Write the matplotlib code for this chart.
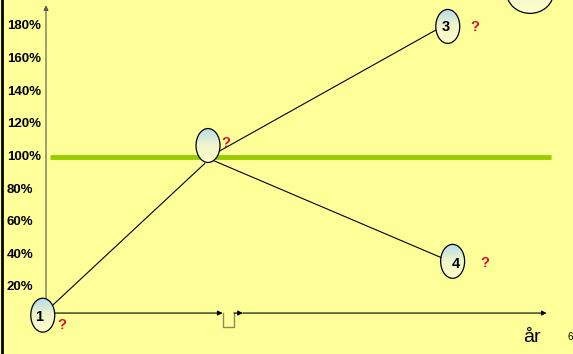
import numpy as np
import matplotlib
matplotlib.use('Agg')
import matplotlib.pyplot as plt
from matplotlib.patches import Ellipse
from matplotlib.colors import LinearSegmentedColormap

# y-axis ticks (percent)
ticks = [20, 40, 60, 80, 100, 120, 140, 160, 180]
tick_labels = [f'{t}%' for t in ticks]

# scenario lines: (start time, start %, end time, end %)
seg_t0 = [0.04, 1.06, 1.04]
seg_p0 = [9, 103, 97.5]
seg_t1 = [0.98, 2.41, 2.47]
seg_p1 = [96, 178, 37]

# marked points
mark_labels = ['1', '', '3', '4']
mark_t = [-0.02, 1.0, 2.48, 2.51]
mark_p = [3, 107, 180, 36]
lab_t = [-0.04, 1.0, 2.47, 2.53]
lab_p = [2, 107, 179.5, 34.5]
q_t = [0.10, 1.11, 2.65, 2.71]
q_p = [-3, 108.5, 179.5, 35]

baseline = 100

bg = '#FFFF99'
fig = plt.figure(figsize=(5.73, 3.54), dpi=100)
fig.patch.set_facecolor(bg)
ax = fig.add_axes([0, 0, 1, 1])
ax.set_facecolor(bg)
ax.axis('off')
ax.set_xlim(-0.284, 3.253)
ax.set_ylim(-20.8, 196.2)

# left border
ax.axvline(-0.274, color='black', lw=2)

# 100% line
ax.plot([0.025, 3.117], [baseline, baseline], color='#99CC00', lw=3.5, solid_capstyle='butt', zorder=2)

# axes
arr = dict(arrowstyle='-|>', color='black', lw=0.8, mutation_scale=7, shrinkA=0, shrinkB=0)
ax.annotate('', xy=(0, 193), xytext=(0, 4.3), arrowprops=dict(arr, color='#555555'))
ax.annotate('', xy=(1.09, 4.3), xytext=(0, 4.3), arrowprops=arr)
ax.plot([1.093, 1.093, 1.16, 1.16], [4.3, -4.3, -4.3, 4.3], color='#8a8a60', lw=1)
ax.annotate('', xy=(1.215, 4.3), xytext=(1.16, 4.3), arrowprops=arr)
ax.annotate('', xy=(3.09, 4.3), xytext=(1.215, 4.3), arrowprops=arr)

for t, lab in zip(ticks, tick_labels):
    ax.text(-0.243, t, lab, ha='left', va='center', fontsize=9.5,
            fontweight='bold', family='Liberation Sans')

for a, b, c, d in zip(seg_t0, seg_p0, seg_t1, seg_p1):
    ax.plot([a, c], [b, d], color='black', lw=0.8, zorder=3)

cmap = LinearSegmentedColormap.from_list('g', ['#FFFFC8', '#F2F5CC', '#B5DCEA'])
grad = np.linspace(0, 1, 100).reshape(-1, 1)


def bubble(x, y, w, h):
    e = Ellipse((x, y), w, h, facecolor='none', edgecolor='black', lw=0.9, zorder=5)
    ax.add_patch(e)
    im = ax.imshow(grad, cmap=cmap, origin='lower', aspect='auto',
                   extent=(x - w / 2, x + w / 2, y - h / 2, y + h / 2), zorder=4)
    im.set_clip_path(e)


w, h = 0.148, 20.8
for t, p in zip(mark_t, mark_p):
    bubble(t, p, w, h)
for t, p, lab in zip(lab_t, lab_p, mark_labels):
    ax.text(t, p, lab, ha='center', va='center', fontsize=10.5, fontweight='bold',
            family='Liberation Sans', zorder=6)

# partial bubble at top right
bubble(2.988, 201, 0.29, 26)

for t, p in zip(q_t, q_p):
    ax.text(t, p, '?', ha='center', va='center', fontsize=10.5, fontweight='bold',
            color='#E0102A', family='Liberation Sans', zorder=6)

ax.text(3.0, -10.5, 'år', ha='center', va='center', fontsize=14, family='Liberation Sans')
ax.text(3.22, -10.5, '6', ha='left', va='center', fontsize=7, family='Liberation Sans')

ax.set_xlim(-0.284, 3.253)
ax.set_ylim(-20.8, 196.2)
fig.savefig('out.png', dpi=100, facecolor=bg)
